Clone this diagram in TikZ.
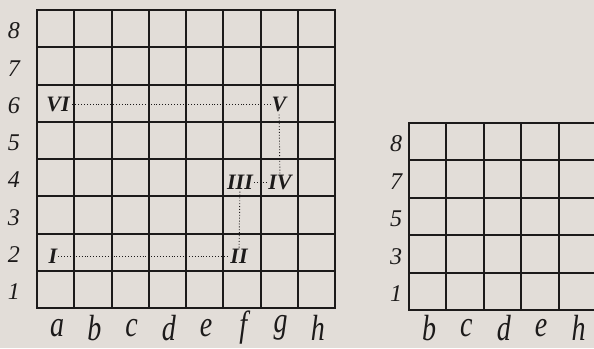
\documentclass[tikz,border=0pt]{standalone}
\usepackage{graphicx}
\usepackage{fontspec}
\setmainfont{Liberation Serif}
\definecolor{paper}{RGB}{226,221,216}
\definecolor{ink}{RGB}{28,26,26}
\begin{document}
\begin{tikzpicture}[x=1pt,y=-1pt,
  gridline/.style={draw=ink,line width=2pt},
  rank/.style={text=ink,font=\fontsize{24}{24}\selectfont\itshape,inner sep=0pt},
  file/.style={text=ink,font=\fontsize{28}{28}\selectfont\itshape,inner sep=0pt},
  numeral/.style={text=ink,font=\fontsize{22}{22}\selectfont\itshape\bfseries,inner sep=1pt},
  path/.style={draw=ink,dotted,line width=0.9pt}]
\fill[paper] (0,0) rectangle (594,348);
\useasboundingbox (0,0) rectangle (594,348);
\clip (0,0) rectangle (594,348);
% left board
\foreach \i in {0,...,8} {
  \draw[gridline] ({37+\i*37.25},10) -- ({37+\i*37.25},308);
  \draw[gridline] (36,{10+\i*37.25}) -- (336,{10+\i*37.25});
}
% right board
\foreach \i in {0,...,5} {
  \draw[gridline] ({409+\i*37.4},123) -- ({409+\i*37.4},310);
  \draw[gridline] (408,{123+\i*37.4}) -- (597,{123+\i*37.4});
}
% left ranks
\foreach \r [count=\k from 0] in {8,7,6,5,4,3,2,1} {
  \node[rank] (L\r) at (14,{31+\k*37.25}) {\r};
}
% left files
\foreach \f [count=\k from 0] in {a,b,c,d,e,f,g,h} {
  \node[file] (F\f) at ({57+\k*37.25},328) {\scalebox{1}[1.3]{\f}};
}
% right ranks
\foreach \r [count=\k from 0] in {8,7,5,3,1} {
  \node[rank] (R\r) at (396,{144+\k*37.4}) {\r};
}
% right files
\foreach \f [count=\k from 0] in {b,c,d,e,h} {
  \node[file] (G\f) at ({429+\k*37.4},328) {\scalebox{1}[1.3]{\f}};
}
% numerals
\node[numeral] (n1) at (53,256) {I};
\node[numeral] (n2) at (239,256) {II};
\node[numeral] (n3) at (240,182) {III};
\node[numeral] (n4) at (280,182) {IV};
\node[numeral] (n5) at (279,104) {V};
\node[numeral] (n6) at (58,104) {VI};
\draw[path] (n1) -- (n2);
\draw[path] (n2) -- (n3);
\draw[path] (n3) -- (n4);
\draw[path] (n4) -- (n5);
\draw[path] (n5) -- (n6);
\end{tikzpicture}
\end{document}
